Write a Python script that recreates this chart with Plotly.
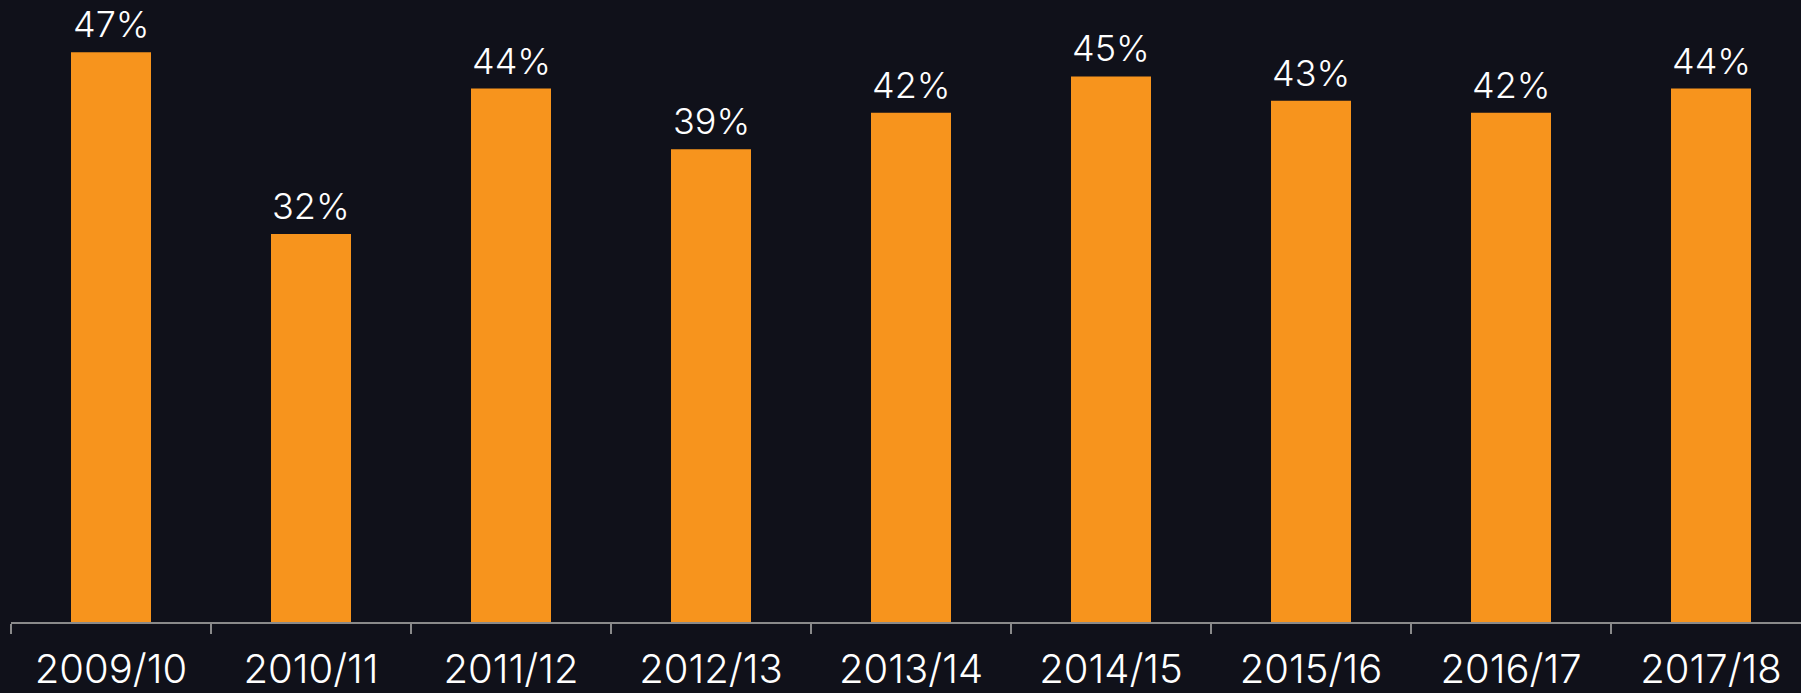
import plotly.graph_objects as go

years = ["2009/10", "2010/11", "2011/12", "2012/13", "2013/14",
         "2014/15", "2015/16", "2016/17", "2017/18"]
share = [47, 32, 44, 39, 42, 45, 43, 42, 44]
labels = [f"{v}%" for v in share]

bg = "#10111a"
orange = "#f7941d"
fnt = "Inter"

fig = go.Figure()
fig.add_trace(go.Bar(
    x=years, y=share,
    marker=dict(color=orange, line=dict(width=0)),
    width=0.4, hoverinfo="skip",
))

# value labels above the bars
for yr, v, lab in zip(years, share, labels):
    fig.add_annotation(
        x=yr, y=v, text=lab, showarrow=False,
        yanchor="bottom", yshift=5, borderpad=0,
        font=dict(family=fnt, size=36, color="white", weight=300),
    )

fig.update_layout(
    width=1801, height=693,
    paper_bgcolor=bg, plot_bgcolor=bg,
    margin=dict(l=11, r=0, t=0, b=63),
    showlegend=False,
    font=dict(family=fnt, color="white"),
)
fig.update_xaxes(
    range=[-0.5, 8.45], tickson="boundaries",
    ticks="outside", ticklen=10, tickcolor="#8a8a8a", tickwidth=2,
    showline=True, linecolor="#8a8a8a", linewidth=2,
    tickfont=dict(family=fnt, size=40, color="white", weight=300),
    ticklabelstandoff=11,
    showgrid=False,
)
fig.update_yaxes(range=[0, 51.3], visible=False, showgrid=False)

fig.write_html("out.html", config={"displayModeBar": False},
               post_script="document.body.style.margin='0';")
